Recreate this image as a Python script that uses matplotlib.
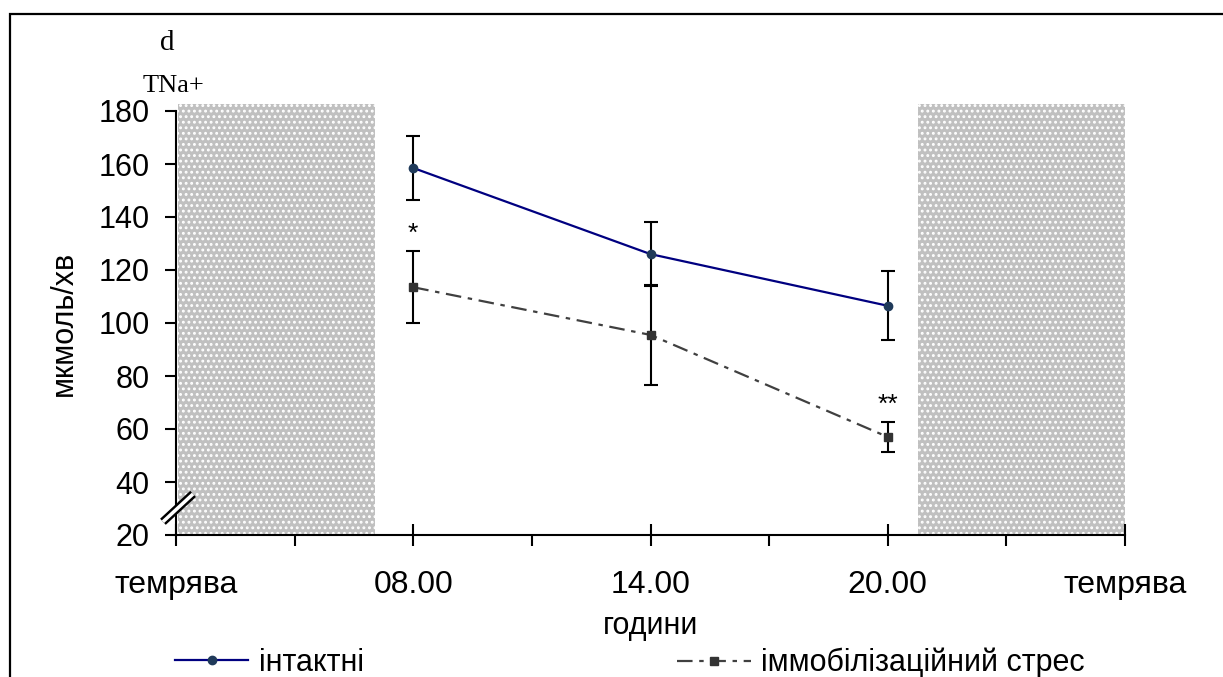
import numpy as np
import matplotlib
matplotlib.use("Agg")
import matplotlib.pyplot as plt
from matplotlib.patches import Rectangle

plt.rcParams['font.family'] = ['Liberation Sans', 'DejaVu Sans']
plt.rcParams['hatch.linewidth'] = 1.3

# data
x_labels = ["темрява", "08.00", "14.00", "20.00", "темрява"]
x_pos = [1, 2, 3]
intact = [158.5, 126.0, 106.5]
intact_err = [12.0, 12.0, 13.0]
stress = [113.5, 95.5, 57.0]
stress_err = [13.5, 19.0, 5.5]
dark_left = (0.0, 0.84)
dark_right = (3.12, 4.0)

fig = plt.figure(figsize=(12.23, 6.77), dpi=100)
ax = fig.add_axes([176 / 1223, 142 / 677, 949 / 1223, 424 / 677])

# frame around the whole chart (only left and top are visible)
fig.patches.append(Rectangle((10 / 1223, -0.2), 1.2, 1.2 - 14 / 677,
                             transform=fig.transFigure, fill=False,
                             edgecolor='black', linewidth=1.6))

# dark periods
for x0, x1 in [dark_left, dark_right]:
    ax.add_patch(Rectangle((x0 + 0.008, 20), x1 - x0 - 0.008, 162.5,
                           facecolor='#c0c0c0', edgecolor='white', linewidth=0,
                           hatch='...', clip_on=False, zorder=1))

ax.plot(x_pos, intact, color='#000080', lw=1.6, marker='o', ms=6,
        mfc='#1f3a5a', mec='#1f3a5a', zorder=3, label='інтактні')
ax.errorbar(x_pos, intact, yerr=intact_err, fmt='none', ecolor='black',
            elinewidth=1.5, capsize=5, capthick=1.5, zorder=2)

ax.plot(x_pos, stress, color='#404040', lw=1.6, ls=(0, (7, 3, 2, 3)),
        marker='s', ms=6, mfc='#333333', mec='#333333', zorder=3,
        label='іммобілізаційний стрес')
ax.errorbar(x_pos, stress, yerr=stress_err, fmt='none', ecolor='black',
            elinewidth=1.5, capsize=5, capthick=1.5, zorder=2)

ax.text(1, 133.5, "*", ha='center', va='center', fontsize=19)
ax.text(3, 69, "**", ha='center', va='center', fontsize=19)

ax.set_xlim(0, 4)
ax.set_ylim(20, 180)
ax.set_yticks(np.arange(20, 181, 20))
ax.set_xticks(range(5))
ax.set_xticklabels(x_labels, fontsize=23)
ax.set_xticks([0.5, 1.5, 2.5, 3.5], minor=True)
ax.tick_params(axis='y', labelsize=22, length=8, width=1.5, direction='out', pad=11)
ax.tick_params(axis='x', which='major', length=16, width=1.5, direction='inout', pad=17)
ax.tick_params(axis='x', which='minor', length=8, width=1.5, direction='out')
for s in ['top', 'right']:
    ax.spines[s].set_visible(False)
for s in ['left', 'bottom']:
    ax.spines[s].set_linewidth(1.5)

ax.set_ylabel("мкмоль/хв", fontsize=22, labelpad=14)
ax.set_xlabel("години", fontsize=22, labelpad=8)

# axis break mark
ax.plot([-0.055, 0.072], [25, 35.5], color='black', lw=6, clip_on=False,
        solid_capstyle='butt', zorder=5)
ax.plot([-0.055, 0.072], [25, 35.5], color='white', lw=2.5, clip_on=False,
        solid_capstyle='butt', zorder=6)

fig.text(167 / 1223, 1 - 43 / 677, "d", fontsize=21, family='Liberation Serif',
         ha='center', va='center')
fig.text(173 / 1223, 1 - 86 / 677, "TNa+", fontsize=19, family='Liberation Serif',
         ha='center', va='center')

h, l = ax.get_legend_handles_labels()
fig.legend([h[0]], [l[0]], loc='center left', bbox_to_anchor=(175 / 1223, 1 - 663 / 677),
           frameon=False, fontsize=22, handlelength=2.4, handletextpad=0.35,
           borderpad=0, borderaxespad=0)
fig.legend([h[1]], [l[1]], loc='center right', bbox_to_anchor=(1085 / 1223, 1 - 663 / 677),
           frameon=False, fontsize=22, handlelength=2.4, handletextpad=0.35,
           borderpad=0, borderaxespad=0)

fig.savefig("out.png", dpi=100)
